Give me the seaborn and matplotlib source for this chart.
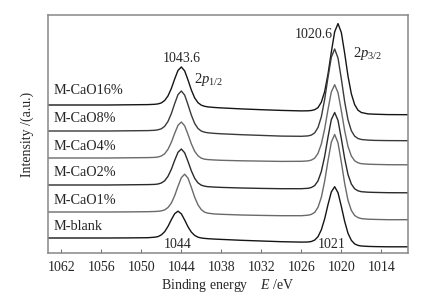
import matplotlib
matplotlib.use("Agg")
import matplotlib.pyplot as plt
import seaborn as sns
import pandas as pd

# ---------------- data ----------------
energy = [1064, 1061, 1058, 1055, 1052, 1049, 1048, 1047.5, 1047, 1046.5,
          1046, 1045.5, 1045, 1044.5, 1044, 1043.5, 1043, 1042.5, 1042, 1041.5,
          1041, 1040.5, 1040, 1039, 1038, 1035, 1032, 1029, 1026, 1025,
          1024.5, 1024, 1023.5, 1023, 1022.5, 1022, 1021.5, 1021, 1020.5, 1020,
          1019.5, 1019, 1018.5, 1018, 1017.5, 1017, 1016, 1015, 1013, 1010]

cao16 = [148.0, 148.0, 148.0, 148.0, 148.2, 148.4, 148.7, 149.1, 150.1, 152.5,
         157.1, 164.5, 174.0, 182.6, 186.0, 182.1, 173.0, 163.0, 155.1, 150.3,
         147.8, 146.7, 146.1, 145.5, 145.1, 144.1, 143.3, 142.6, 142.1, 142.2,
         142.5, 143.3, 145.4, 150.8, 161.4, 178.8, 201.0, 221.2, 229.4, 220.5,
         199.8, 176.9, 159.2, 148.3, 142.8, 140.5, 139.1, 138.8, 138.4, 138.3]

cao8 = [122.0, 122.0, 122.0, 122.0, 122.2, 122.4, 122.7, 123.2, 124.2, 126.7,
        131.6, 139.4, 149.3, 158.4, 162.0, 157.9, 148.3, 137.9, 129.6, 124.5,
        121.9, 120.8, 120.2, 119.6, 119.2, 118.3, 117.6, 116.9, 116.7, 117.1,
        117.9, 120.1, 125.5, 136.2, 153.6, 175.7, 195.8, 204.0, 195.0, 174.2,
        151.3, 133.2, 122.3, 116.8, 114.5, 113.5, 112.9, 112.6, 112.4, 112.3]

cao4 = [95.0, 95.0, 95.0, 95.0, 95.2, 95.4, 95.6, 96.0, 97.0, 99.2,
        103.7, 110.7, 119.6, 127.7, 131.0, 127.2, 118.6, 109.2, 101.7, 97.2,
        94.8, 93.8, 93.4, 93.0, 92.7, 92.2, 91.9, 91.6, 91.7, 92.1,
        92.9, 94.8, 99.6, 109.0, 124.2, 143.5, 161.1, 168.3, 160.4, 142.3,
        122.3, 106.5, 97.0, 92.2, 90.2, 89.3, 88.8, 88.6, 88.3, 88.2]

cao2 = [68.0, 68.0, 68.0, 68.0, 68.2, 68.4, 68.6, 69.0, 70.0, 72.2,
        76.7, 83.7, 92.6, 100.7, 104.0, 100.2, 91.6, 82.2, 74.7, 70.1,
        67.8, 66.8, 66.3, 65.9, 65.6, 65.0, 64.6, 64.3, 64.3, 64.7,
        65.5, 67.4, 72.1, 81.5, 96.6, 115.9, 133.4, 140.5, 132.6, 114.4,
        94.4, 78.5, 69.0, 64.2, 62.2, 61.3, 60.8, 60.6, 60.3, 60.2]

cao1 = [41.0, 41.0, 41.0, 41.0, 41.1, 41.3, 41.5, 41.7, 42.1, 43.1,
        45.5, 49.9, 57.3, 66.7, 75.3, 78.8, 74.8, 65.7, 55.8, 48.1,
        43.3, 40.8, 39.8, 39.0, 38.7, 38.0, 37.6, 37.3, 37.3, 37.8,
        38.6, 40.6, 45.7, 55.7, 71.8, 92.3, 110.9, 118.5, 110.2, 90.8,
        69.5, 52.7, 42.6, 37.5, 35.4, 34.4, 33.8, 33.6, 33.3, 33.3]

blank = [15.0, 15.0, 15.0, 15.0, 15.1, 15.3, 15.8, 16.4, 18.1, 21.3,
         26.6, 33.3, 39.3, 41.8, 39.2, 33.0, 26.2, 20.9, 17.6, 15.8,
         15.0, 14.6, 14.3, 13.9, 13.6, 12.7, 12.0, 11.3, 10.9, 11.0,
         11.5, 12.9, 16.3, 23.2, 34.2, 48.4, 61.1, 66.3, 60.3, 46.6,
         31.6, 19.7, 12.7, 9.1, 7.6, 7.0, 6.6, 6.4, 6.2, 6.2]

samples = ["M-CaO16%", "M-CaO8%", "M-CaO4%", "M-CaO2%", "M-CaO1%", "M-blank"]
spectra = [cao16, cao8, cao4, cao2, cao1, blank]
label_y = [162, 134, 106, 80, 53, 27]
xticks = [1062, 1056, 1050, 1044, 1038, 1032, 1026, 1020, 1014]

# ---------------- styling ----------------
sns.set_style("white")
plt.rcParams["font.family"] = ["Liberation Serif", "DejaVu Serif"]
plt.rcParams["mathtext.fontset"] = "custom"
plt.rcParams["mathtext.rm"] = "Liberation Serif"
plt.rcParams["mathtext.it"] = "Liberation Serif:italic"

colors = {"M-CaO16%": "#151515", "M-CaO8%": "#3a3a3a", "M-CaO4%": "#6a6a6a",
          "M-CaO2%": "#2a2a2a", "M-CaO1%": "#6a6a6a", "M-blank": "#151515"}

rows = []
for name, ys in zip(samples, spectra):
    for e, v in zip(energy, ys):
        rows.append({"E": e, "I": v, "sample": name})
df = pd.DataFrame(rows)

fig = plt.figure(figsize=(4.3, 3.08), dpi=100)
ax = fig.add_axes([48 / 430, 1 - 253 / 308, 360 / 430, 238 / 308])

sns.lineplot(data=df, x="E", y="I", hue="sample", palette=colors,
             estimator=None, linewidth=1.0, legend=False, ax=ax)

ax.set_xlim(1064, 1010)
ax.set_ylim(0, 238)
ax.set_xticks(xticks)
ax.set_xticklabels([str(t) for t in xticks], fontsize=10)
ax.set_yticks([])
ax.tick_params(axis="x", direction="in", length=3, width=0.8,
               color="#777777", pad=6, bottom=True)
for sp in ax.spines.values():
    sp.set_color("#888888")
    sp.set_linewidth(1.1)

ax.set_xlabel(r"Binding energy    $\mathit{E}$ /eV", fontsize=10, labelpad=2)
ax.set_ylabel("Intensity /(a.u.)", fontsize=10, labelpad=10)

for name, yy in zip(samples, label_y):
    ax.text(1063.2, yy, name, fontsize=10.3, ha="left", va="center")

ax.text(1043.9, 195, "1043.6", fontsize=10, ha="center", va="center")
ax.text(1042.1, 173, r"$2\mathit{p}_{1/2}$", fontsize=10.5, ha="left", va="center")
ax.text(1021.25, 218, "1020.6", fontsize=10, ha="right", va="center")
ax.text(1018.3, 200, r"$2\mathit{p}_{3/2}$", fontsize=10.5, ha="left", va="center")
ax.text(1044.5, 9, "1044", fontsize=10, ha="center", va="center")
ax.text(1021.4, 9, "1021", fontsize=10, ha="center", va="center")

fig.savefig("out.png", dpi=100)
